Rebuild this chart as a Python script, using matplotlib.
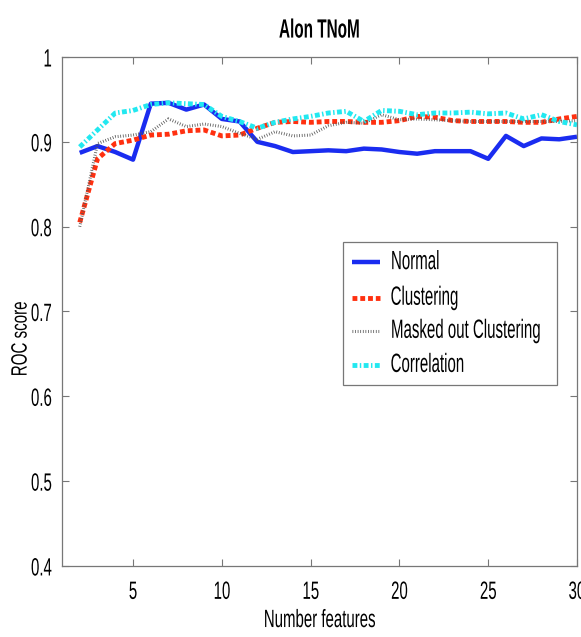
import numpy as np
import matplotlib
matplotlib.use("Agg")
import matplotlib.pyplot as plt
from matplotlib.patheffects import AbstractPathEffect
from matplotlib.transforms import Affine2D
from matplotlib.lines import Line2D
from matplotlib.patches import Rectangle

plt.rcParams['font.family'] = ['Liberation Sans', 'DejaVu Sans']

n_features = list(range(2, 31))

normal = [0.887, 0.895, 0.888, 0.879, 0.945, 0.946, 0.938, 0.944, 0.927, 0.924,
          0.900, 0.895, 0.888, 0.889, 0.890, 0.889, 0.892, 0.891, 0.888, 0.886,
          0.889, 0.889, 0.889, 0.880, 0.907, 0.895, 0.904, 0.903, 0.906]
clustering = [0.805, 0.880, 0.898, 0.902, 0.908, 0.909, 0.913, 0.914, 0.907, 0.908,
              0.916, 0.923, 0.924, 0.923, 0.924, 0.924, 0.923, 0.923, 0.925, 0.930,
              0.929, 0.925, 0.924, 0.924, 0.924, 0.923, 0.923, 0.927, 0.930]
masked = [0.800, 0.898, 0.906, 0.908, 0.912, 0.927, 0.918, 0.921, 0.918, 0.910,
          0.903, 0.912, 0.907, 0.908, 0.919, 0.923, 0.922, 0.932, 0.926, 0.927,
          0.926, 0.925, 0.924, 0.924, 0.924, 0.924, 0.924, 0.924, 0.925]
correlation = [0.894, 0.914, 0.934, 0.937, 0.944, 0.946, 0.945, 0.944, 0.930, 0.924,
               0.916, 0.923, 0.927, 0.930, 0.934, 0.936, 0.924, 0.937, 0.936, 0.932,
               0.934, 0.934, 0.935, 0.933, 0.934, 0.927, 0.932, 0.924, 0.920]

labels = ['Normal', 'Clustering', 'Masked out Clustering', 'Correlation']


class Narrow(AbstractPathEffect):
    """Squeeze glyphs horizontally, keeping the anchor point (0 left, 0.5 centre, 1 right) fixed."""

    def __init__(self, sx=0.6, anchor=0.5):
        super().__init__()
        self.sx = sx
        self.anchor = anchor

    def draw_path(self, renderer, gc, tpath, affine, rgbFace=None):
        ext = tpath.get_extents()
        x0 = ext.x0 + self.anchor * ext.width
        squeeze = Affine2D().translate(-x0, 0).scale(self.sx, 1).translate(x0, 0)
        renderer.draw_path(gc, tpath, squeeze + affine, rgbFace)


fig = plt.figure(figsize=(5.81, 6.37), dpi=100)
ax = fig.add_axes([0.1067, 0.1115, 0.8864, 0.7990])

lines = []
lines += ax.plot(n_features, normal, color='#1a2cf0', lw=3.2, solid_capstyle='butt')
lines += ax.plot(n_features, clustering, color='#ff3010', lw=3.5, ls=(0, (1.0, 0.6)))
lines += ax.plot(n_features, masked, color='#555555', lw=2.2, ls=(0, (0.25, 0.6)))
lines += ax.plot(n_features, correlation, color='#22e8f0', lw=3.5, ls=(0, (1.0, 0.5, 0.3, 0.5)))

ax.set_xlim(1, 30)
ax.set_ylim(0.4, 1)
ax.set_xticks([5, 10, 15, 20, 25, 30])
ax.set_yticks([0.4, 0.5, 0.6, 0.7, 0.8, 0.9, 1])
ax.set_yticklabels(['0.4', '0.5', '0.6', '0.7', '0.8', '0.9', '1'])
ax.tick_params(direction='in', top=True, right=True, length=5, width=0.8,
               color='#777777', labelsize=18)
ax.tick_params(axis='x', pad=10)
ax.tick_params(axis='y', pad=7)
for s in ax.spines.values():
    s.set_color('#777777')
    s.set_linewidth(0.9)

for lbl in ax.get_xticklabels():
    lbl.set_path_effects([Narrow(0.6, 0.5)])
for lbl in ax.get_yticklabels():
    lbl.set_path_effects([Narrow(0.6, 1.0)])

xl = ax.set_xlabel('Number features', fontsize=18, labelpad=3)
xl.set_path_effects([Narrow(0.6, 0.5)])
yl = ax.set_ylabel('ROC score', fontsize=16)
yl.set_path_effects([Narrow(0.68, 0.5)])
ax.yaxis.set_label_coords(-0.059, 0.446)
tl = ax.set_title('Alon TNoM', fontsize=19, fontweight='bold', pad=14)
tl.set_path_effects([Narrow(0.58, 0.5)])

# legend box drawn by hand so the narrow labels get a snug frame
frame = Rectangle((0.546, 0.356), 0.415, 0.281, transform=ax.transAxes,
                  facecolor='white', edgecolor='#777777', lw=0.9, zorder=5)
ax.add_patch(frame)
row_y = [0.597, 0.527, 0.462, 0.395]
for ln, lab, yy in zip(lines, labels, row_y):
    key = Line2D([0.563, 0.617], [yy, yy], transform=ax.transAxes, zorder=6)
    key.update_from(ln)
    key.set_transform(ax.transAxes)
    ax.add_line(key)
    t = ax.text(0.637, yy, lab, transform=ax.transAxes, fontsize=19,
                ha='left', va='center', zorder=6)
    t.set_path_effects([Narrow(0.57, 0.0)])

fig.savefig('out.png', dpi=100)
